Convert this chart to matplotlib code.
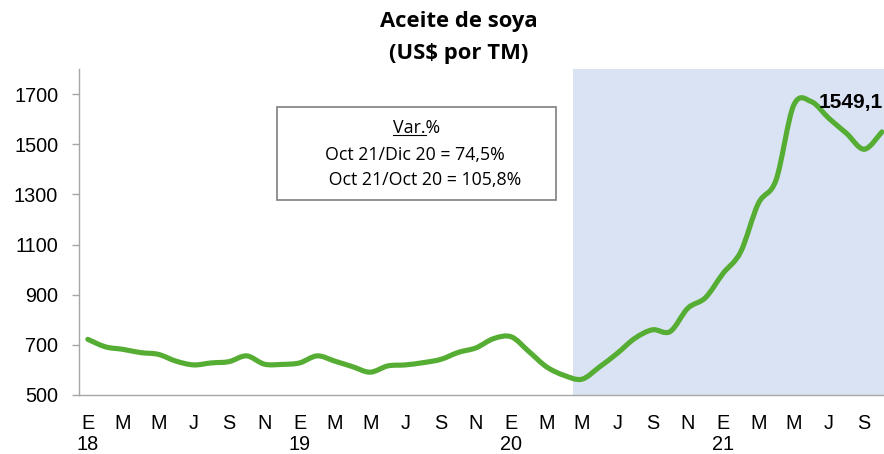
import matplotlib
matplotlib.use("Agg")
import matplotlib.pyplot as plt
from matplotlib.path import Path
from matplotlib.patches import PathPatch, Rectangle
from matplotlib.transforms import blended_transform_factory
import numpy as np

# ---------------- data ----------------
month_letters = ["E", "F", "M", "A", "M", "J", "J", "A", "S", "O", "N", "D"]
years = ["18", "19", "20", "21"]
prices = [
    722, 692, 682, 669, 662, 635, 620, 628, 633, 656, 623, 622,   # 2018
    628, 656, 635, 613, 591, 616, 620, 629, 642, 670, 688, 725,   # 2019
    732, 673, 612, 578, 563, 612, 666, 726, 760, 753, 846, 888,   # 2020
    985, 1071, 1264, 1357, 1655, 1670, 1603, 1543, 1480, 1549.1,  # 2021
]
last_label = "1549,1"
title_lines = ["Aceite de soya", "(US$ por TM)"]
box_lines = ["Var.%", "Oct 21/Dic 20 = 74,5%", " Oct 21/Oct 20 = 105,8%"]
yticks = [500, 700, 900, 1100, 1300, 1500, 1700]
shade_start_index = 28  # May 2020

# ---------------- figure ----------------
W, H = 884, 454
fig = plt.figure(figsize=(W / 100, H / 100), dpi=100)
ax = fig.add_axes([79 / W, (H - 395) / H, (884 - 79) / W, (395 - 69) / H])

n = len(prices)
x = np.arange(n, dtype=float)
y = np.array(prices, dtype=float)

ax.set_xlim(-0.5, 45.12)
ax.set_ylim(500, 1800)

# shaded region
ax.axvspan(shade_start_index - 0.5, 45.12, color="#DAE3F3", lw=0, zorder=0)

# smoothed line (Bezier through data points, Excel-like)
verts = [(x[0], y[0])]
codes = [Path.MOVETO]
t = 1.0 / 6.0
for i in range(n - 1):
    p0 = (x[i - 1], y[i - 1]) if i > 0 else (x[i], y[i])
    p1 = (x[i], y[i])
    p2 = (x[i + 1], y[i + 1])
    p3 = (x[i + 2], y[i + 2]) if i + 2 < n else (x[i + 1], y[i + 1])
    c1 = (p1[0] + (p2[0] - p0[0]) * t, p1[1] + (p2[1] - p0[1]) * t)
    c2 = (p2[0] - (p3[0] - p1[0]) * t, p2[1] - (p3[1] - p1[1]) * t)
    verts += [c1, c2, p2]
    codes += [Path.CURVE4] * 3
patch = PathPatch(Path(verts, codes), facecolor="none", edgecolor="#55AD33",
                  lw=3.7, capstyle="round", joinstyle="round", zorder=3)
ax.add_patch(patch)

# spines
for s in ["top", "right"]:
    ax.spines[s].set_visible(False)
for s in ["left", "bottom"]:
    ax.spines[s].set_color("#A6A6A6")
    ax.spines[s].set_linewidth(1.0)

tick_font = {"family": "Liberation Sans", "size": 14.3}
ax.set_yticks(yticks)
ax.set_yticklabels([str(v) for v in yticks], fontdict=tick_font)
ax.tick_params(axis="y", length=5, width=1.0, color="#A6A6A6", pad=10)

xt = list(range(0, n, 2))
ax.set_xticks(xt)
ax.set_xticklabels([month_letters[i % 12] for i in xt], fontdict=tick_font)
ax.tick_params(axis="x", length=0, pad=14)

# year labels under the January ticks
trans = blended_transform_factory(ax.transData, fig.transFigure)
for k, yr in enumerate(years):
    ax.text(12 * k, 1 - 449.5 / H, yr, transform=trans, ha="center", va="baseline",
            clip_on=False, **tick_font)

# last value label
ax.annotate(last_label, xy=(x[-1], y[-1]), xytext=(1, 29), textcoords="offset pixels",
            ha="right", va="center", fontsize=15, fontweight="bold",
            family="Liberation Sans", zorder=5)

# title
fig.text(459 / W, 1 - 21 / H, title_lines[0], ha="center", va="center",
         fontsize=15.8, fontweight="bold", family="Open Sans")
fig.text(459 / W, 1 - 53 / H, title_lines[1], ha="center", va="center",
         fontsize=15.8, fontweight="bold", family="Open Sans")

# text box
rect = Rectangle((277 / W, 1 - 200 / H), (556 - 277) / W, (200 - 107) / H,
                 transform=fig.transFigure, facecolor="white", edgecolor="#7F7F7F",
                 lw=1.2, zorder=4)
fig.patches.append(rect)
box_font = dict(family="Open Sans", fontsize=12.8)
t0 = fig.text(417 / W, 1 - 128 / H, box_lines[0], ha="center", va="center", zorder=5, **box_font)
fig.text(415 / W, 1 - 155 / H, box_lines[1], ha="center", va="center", zorder=5, **box_font)
fig.text(423 / W, 1 - 180 / H, box_lines[2], ha="center", va="center", zorder=5, **box_font)

# underline for "Var."
fig.canvas.draw()
r = fig.canvas.get_renderer()
bb = t0.get_window_extent(r)
tmp = fig.text(0, 0, "Var.", **box_font)
w_var = tmp.get_window_extent(r).width
tmp.remove()
uy = bb.y0 + 2
fig.add_artist(plt.Line2D([bb.x0 / W, (bb.x0 + w_var) / W], [uy / H, uy / H],
                          transform=fig.transFigure, color="black", lw=0.8, zorder=6))

fig.savefig("out.png", dpi=100)
